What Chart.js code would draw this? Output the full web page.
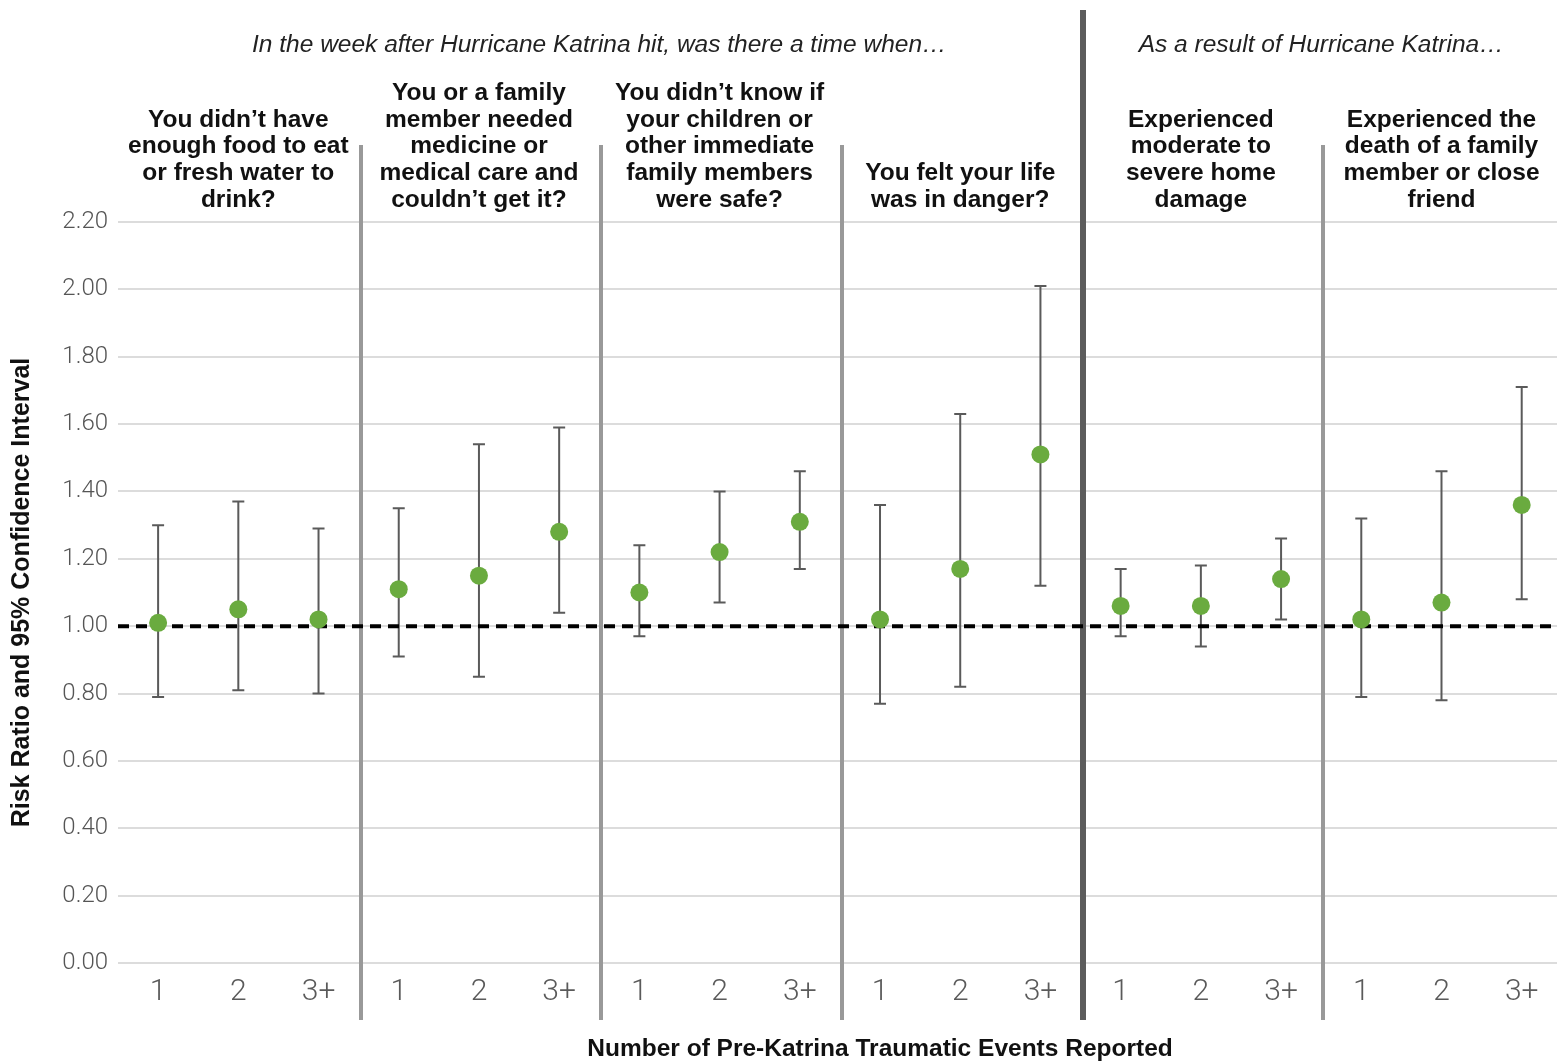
<!DOCTYPE html>
<html>
<head>
<meta charset="utf-8">
<title>Risk ratios by pre-Katrina traumatic events</title>
<script src="https://cdn.jsdelivr.net/npm/chart.js@4/dist/chart.umd.min.js"></script>
<style>
  html, body { margin: 0; padding: 0; background: #ffffff; overflow: hidden; }
  #wrap { position: relative; width: 1557px; height: 1064px; }
</style>
</head>
<body>
<div id="wrap"><canvas id="chart"></canvas></div>
<script>
// ---- data ----
const categories = ['1', '2', '3+', '1', '2', '3+', '1', '2', '3+', '1', '2', '3+', '1', '2', '3+', '1', '2', '3+'];
const riskRatio = [1.01, 1.05, 1.02, 1.11, 1.15, 1.28, 1.10, 1.22, 1.31, 1.02, 1.17, 1.51, 1.06, 1.06, 1.14, 1.02, 1.07, 1.36];
const ciLower   = [0.79, 0.81, 0.80, 0.91, 0.85, 1.04, 0.97, 1.07, 1.17, 0.77, 0.82, 1.12, 0.97, 0.94, 1.02, 0.79, 0.78, 1.08];
const ciUpper   = [1.30, 1.37, 1.29, 1.35, 1.54, 1.59, 1.24, 1.40, 1.46, 1.36, 1.63, 2.01, 1.17, 1.18, 1.26, 1.32, 1.46, 1.71];
const yTickValues = [0, 0.2, 0.4, 0.6, 0.8, 1.0, 1.2, 1.4, 1.6, 1.8, 2.0, 2.2];
const referenceRatio = 1.0;

const groupTitles = [
  ['You didn\u2019t have', 'enough food to eat', 'or fresh water to', 'drink?'],
  ['You or a family', 'member needed', 'medicine or', 'medical care and', 'couldn\u2019t get it?'],
  ['You didn\u2019t know if', 'your children or', 'other immediate', 'family members', 'were safe?'],
  ['You felt your life', 'was in danger?'],
  ['Experienced', 'moderate to', 'severe home', 'damage'],
  ['Experienced the', 'death of a family', 'member or close', 'friend']
];
const sectionTitles = ['In the week after Hurricane Katrina hit, was there a time when\u2026', 'As a result of Hurricane Katrina\u2026'];
const sectionGroups = [[0, 3], [4, 5]];   // first and last group index of each section
const groupSize = 3;

const yAxisTitle = 'Risk Ratio and 95% Confidence Interval';
const xAxisTitle = 'Number of Pre-Katrina Traumatic Events Reported';

// ---- styling ----
const GREEN = '#6aab3f';
const BAR = '#5a5a5a';
const TITLE_FONT = 'bold 24.5px "Liberation Sans", Arial, sans-serif';
const ITALIC_FONT = 'italic 24.5px "Liberation Sans", Arial, sans-serif';

// Separators, confidence intervals, reference line and header texts
const annotations = {
  id: 'annotations',
  beforeDatasetsDraw(chart) {
    const { ctx, scales: { x, y } } = chart;
    ctx.save();

    // group separators (thick one between the two sections)
    const sectionBreak = sectionGroups[1][0] * groupSize - 0.5;
    for (let g = 1; g < groupTitles.length; g++) {
      const v = g * groupSize - 0.5;
      const px = Math.round(x.getPixelForValue(v)) + 2;
      const thick = v === sectionBreak;
      ctx.beginPath();
      ctx.strokeStyle = thick ? '#5c5c5c' : '#999999';
      ctx.lineWidth = thick ? 6 : 4;
      ctx.moveTo(px, thick ? 10 : 145);
      ctx.lineTo(px, 1020);
      ctx.stroke();
    }

    // confidence intervals
    ctx.strokeStyle = BAR;
    ctx.lineWidth = 2;
    riskRatio.forEach((_, i) => {
      const px = x.getPixelForValue(i);
      const top = y.getPixelForValue(ciUpper[i]);
      const bot = y.getPixelForValue(ciLower[i]);
      ctx.beginPath();
      ctx.moveTo(px, top); ctx.lineTo(px, bot);
      ctx.moveTo(px - 6, top); ctx.lineTo(px + 6, top);
      ctx.moveTo(px - 6, bot); ctx.lineTo(px + 6, bot);
      ctx.stroke();
    });

    // reference line at ratio 1
    const ry = y.getPixelForValue(referenceRatio);
    ctx.beginPath();
    ctx.setLineDash([11, 7]);
    ctx.strokeStyle = '#000000';
    ctx.lineWidth = 4;
    ctx.moveTo(chart.chartArea.left, ry);
    ctx.lineTo(chart.chartArea.right, ry);
    ctx.stroke();
    ctx.restore();
  },
  afterDraw(chart) {
    const { ctx, scales: { x } } = chart;
    const top = chart.chartArea.top;
    ctx.save();
    ctx.textAlign = 'center';
    ctx.textBaseline = 'middle';

    // section headers
    ctx.font = ITALIC_FONT;
    ctx.fillStyle = '#222222';
    sectionGroups.forEach(([g0, g1], s) => {
      const v = (g0 * groupSize + g1 * groupSize + groupSize - 1) / 2;
      ctx.fillText(sectionTitles[s], x.getPixelForValue(v), 45);
    });

    // group titles, bottom-aligned above the plot
    ctx.font = TITLE_FONT;
    ctx.fillStyle = '#111111';
    const lineH = 26.7;
    groupTitles.forEach((lines, g) => {
      const cx = x.getPixelForValue(g * groupSize + 1);
      lines.forEach((line, k) => {
        const cy = top - 22 - (lines.length - 1 - k) * lineH;
        ctx.fillText(line, cx, cy);
      });
    });

    // x axis title
    ctx.fillText(xAxisTitle, x.getPixelForValue(9), 1049);
    ctx.restore();
  }
};

new Chart(document.getElementById('chart'), {
  type: 'scatter',
  data: {
    datasets: [{
      data: riskRatio.map((v, i) => ({ x: i, y: v })),
      backgroundColor: GREEN,
      borderColor: GREEN,
      pointRadius: 9,
      pointHoverRadius: 9,
      borderWidth: 0
    }]
  },
  options: {
    responsive: true,
    maintainAspectRatio: false,
    animation: false,
    events: [],
    layout: { autoPadding: false, padding: { top: 222, left: 0, right: 0, bottom: 0 } },
    plugins: { legend: { display: false }, tooltip: { enabled: false } },
    scales: {
      x: {
        type: 'linear',
        min: -0.5,
        max: 17.44,
        afterBuildTicks(scale) { scale.ticks = categories.map((_, i) => ({ value: i })); },
        afterFit(scale) { scale.height = 101; },
        grid: { display: false, drawTicks: false },
        border: { display: false },
        ticks: {
          autoSkip: false,
          maxRotation: 0,
          padding: 11,
          color: '#5a5a5a',
          font: { family: 'Roboto', weight: 300, size: 30 },
          callback: (v) => categories[v]
        }
      },
      y: {
        min: 0,
        max: 2.2,
        afterBuildTicks(scale) { scale.ticks = yTickValues.map(v => ({ value: v })); },
        afterFit(scale) { scale.width = 118; },
        grid: { color: '#dcdcdc', lineWidth: 2, drawTicks: false },
        border: { display: false },
        ticks: {
          padding: 10,
          color: '#555555',
          font: { family: 'Roboto', weight: 300, size: 24 },
          callback: (v) => Number(v).toFixed(2)
        },
        title: {
          display: true,
          text: yAxisTitle,
          color: '#111111',
          font: { family: '"Liberation Sans", Arial, sans-serif', weight: 'bold', size: 25 },
          padding: { top: 7, bottom: 0 }
        }
      }
    }
  },
  plugins: [annotations]
});
</script>
</body>
</html>
